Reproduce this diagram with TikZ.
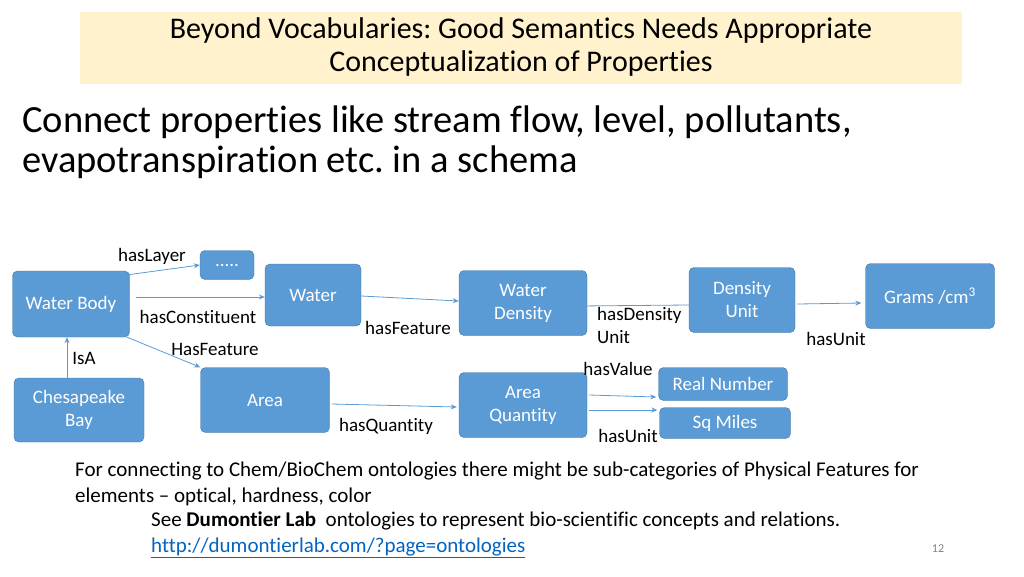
\documentclass[tikz,border=0pt]{standalone}
\usepackage{fontspec}
\setmainfont{Carlito}[Ligatures=NoCommon]
\frenchspacing
\usetikzlibrary{arrows.meta}
\definecolor{boxblue}{RGB}{91,155,213}
\definecolor{boxline}{RGB}{65,113,156}
\definecolor{titlefill}{RGB}{255,242,204}
\definecolor{linkblue}{RGB}{5,99,193}
\begin{document}
\begin{tikzpicture}[x=1pt,y=-1pt]
   \tikzstyle{every node}=[inner sep=0pt]
   \tikzstyle{concept}=[draw=boxline, fill=boxblue, rounded corners=5pt, text=white, font=\fontsize{19}{23}\selectfont, align=center]
   \tikzstyle{rel}=[font=\fontsize{19}{23}\selectfont, align=left]
   \tikzstyle{link}=[draw=boxblue, line width=0.8pt, -{Stealth[length=6pt,width=5pt]}]

\useasboundingbox (0,0) rectangle (1024,576);
\fill[titlefill] (80,12) rectangle (962,84);
\node[font=\fontsize{30}{33}\selectfont, align=center] (title) at (521,47)
    {Beyond Vocabularies: Good Semantics Needs Appropriate\\Conceptualization of Properties};
\node[font=\fontsize{38.5}{44}\selectfont, anchor=west] (head1) at (22,122) {Connect properties like stream flow, level, pollutants,};
\node[font=\fontsize{38.5}{44}\selectfont, anchor=west] (head2) at (22,162) {evapotranspiration etc. in a schema};

% concepts
\node[concept, minimum width=117pt, minimum height=66pt] (body) at (71,304) {Water Body};
\node[concept, minimum width=54pt, minimum height=29pt] (dots) at (227,265) {.....};
\node[concept, minimum width=96pt, minimum height=62pt] (water) at (313,295) {Water};
\node[concept, minimum width=128pt, minimum height=65pt] (density) at (523,303) {Water\\Density};
\node[concept, minimum width=106pt, minimum height=65pt] (dunit) at (742,300) {Density\\Unit};
\node[concept, minimum width=129pt, minimum height=65pt] (grams) at (930,296) {Grams /cm\textsuperscript{3}};
\node[concept, minimum width=130pt, minimum height=64pt] (bay) at (79,410) {Chesapeake\\Bay};
\node[concept, minimum width=129pt, minimum height=65pt] (area) at (265,400) {Area};
\node[concept, minimum width=128pt, minimum height=65pt] (aquant) at (523,405) {Area\\Quantity};
\node[concept, minimum width=129pt, minimum height=33pt] (real) at (723,384) {Real Number};
\node[concept, minimum width=131pt, minimum height=31pt] (miles) at (725,423) {Sq Miles};

% relations
\draw[link] (body.north east) ++(-2,4) -- (dots.west);
\draw[link] (body.east) ++(6,-7) coordinate (c1) -- (c1 -| water.west);
\draw[link] (body.south east) ++(-5,-1) -- (area.north west);
\draw[link] (bay.north) ++(-12,0) coordinate (c2) -- (c2 |- body.south);
\draw[link] (water.east) ++(0,1) -- ([yshift=2pt]density.west);
\draw[draw=boxblue, line width=0.8pt] ([xshift=-9pt,yshift=-3pt]density.east) -- ([yshift=-5pt]dunit.west);
\draw[link] ([xshift=2pt,yshift=-4pt]dunit.east) -- ([xshift=-4pt,yshift=-7pt]grams.west);
\draw[link] ([xshift=2pt,yshift=-4pt]area.east) -- ([xshift=-2pt,yshift=-2pt]aquant.west);
\draw[link] ([xshift=2pt,yshift=10pt]aquant.east) -- ([xshift=-2pt,yshift=-13pt]real.west);
\draw[link] ([xshift=2pt,yshift=-5pt]aquant.east) -- ([xshift=-2pt,yshift=13pt]miles.west);

% relation labels
\node[rel] (lLayer) at (152,256) {hasLayer};
\node[rel] (lConst) at (198,317) {hasConstituent};
\node[rel] (lFeat) at (408,328) {hasFeature};
\node[rel] (lFeat2) at (215,349) {HasFeature};
\node[rel] (lIsA) at (84,358) {IsA};
\node[rel] (lQuant) at (386,426) {hasQuantity};
\node[rel, anchor=north west] (lDens) at (597,307) {hasDensity\\Unit};
\node[rel] (lUnit) at (836,339) {hasUnit};
\node[rel] (lValue) at (618,369) {hasValue};
\node[rel] (lUnit2) at (628,436) {hasUnit};

% note
\node[font=\fontsize{21}{25.5}\selectfont, anchor=north west, align=left] (note) at (75,462)
    {For connecting to Chem/BioChem ontologies there might be sub-categories of Physical Features for\\elements -- optical, hardness, color};
\node[font=\fontsize{21}{25.5}\selectfont, anchor=north west, align=left] (see) at (151,512)
    {See \textbf{Dumontier Lab}\ \ ontologies to represent bio-scientific concepts and relations.\\\textcolor{linkblue}{\underline{http://dumontierlab.com/?page=ontologies}}};
\node[font=\fontsize{12}{14}\selectfont, text=gray] (page) at (938,549) {12};
\end{tikzpicture}
\end{document}
